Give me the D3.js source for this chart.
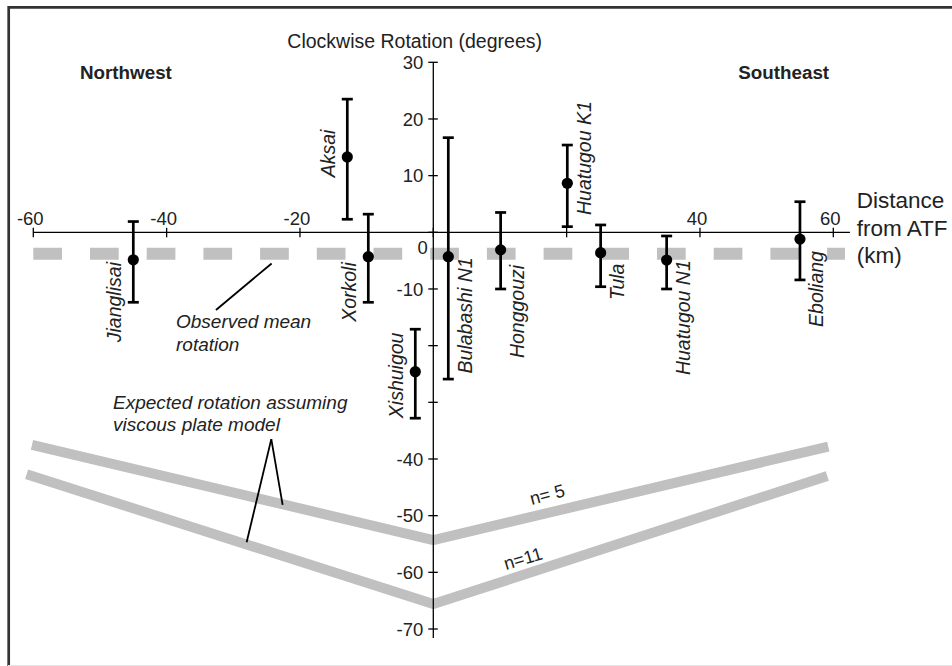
<!DOCTYPE html>
<html>
<head>
<meta charset="utf-8">
<script src="https://cdn.jsdelivr.net/npm/d3@7"></script>
<style>
  html, body { margin: 0; padding: 0; background: #fff; }
  svg { display: block; }
  text { font-family: "Liberation Sans", Arial, Helvetica, sans-serif; fill: #222; }
</style>
</head>
<body>
<svg id="chart" width="952" height="666"></svg>
<script>
// ---------- data ----------
const sites      = ["Jianglisai", "Aksai", "Xorkoli", "Xishuigou", "Bulabashi N1", "Honggouzi", "Huatugou K1", "Tula", "Huatugou N1", "Eboliang"];
const distanceKm = [-45, -12.9, -9.75, -2.7, 2.25, 10.1, 20.1, 25.1, 35.0, 55.0];
const rotation   = [-4.85, 13.3, -4.3, -24.6, -4.3, -3.1, 8.65, -3.6, -4.9, -1.2];
const errHigh    = [1.9, 23.5, 3.2, -17.1, 16.7, 3.5, 15.4, 1.3, -0.65, 5.4];
const errLow     = [-12.35, 2.3, -12.35, -32.8, -25.9, -10.0, 1.0, -9.6, -10.0, -8.4];
const labelSide  = ["left", "left", "left", "left", "right", "right", "right", "right", "right", "right"];
const labelStart = [-19.4, 9.7, -15.8, -32.8, -24.9, -22.2, 3.05, -11.95, -25.2, -16.7];

const meanRotation = -3.8;
const meanExtent   = [-60, 61.75];

const n5Dist  = [-60.2, 0, 59.25];
const n5Rot   = [-37.5, -54.3, -37.8];
const n11Dist = [-61, 0, 59.1];
const n11Rot  = [-42.7, -65.6, -43.0];

const xTicks = [-60, -40, -20, 0, 20, 40, 60];
const xTickLabels = [-60, -40, -20, 40, 60];
const yTicks = [30, 20, 10, 0, -10, -20, -30, -40, -50, -60, -70];
const yTickLabels = [30, 20, 10, 0, -10, -40, -50, -60, -70];

// ---------- scales ----------
const svg = d3.select("#chart");
const x = d3.scaleLinear().domain([-60, 60]).range([33.3, 833.3]);
const y = d3.scaleLinear().domain([30, -70]).range([62.3, 629]);

// frame
svg.append("path").attr("d", "M8.7,670 L8.7,7.3 L960,7.3")
  .attr("fill", "none").attr("stroke", "#333").attr("stroke-width", 2.7);
svg.append("line").attr("x1", 8).attr("x2", 952).attr("y1", 665.5).attr("y2", 665.5)
  .attr("stroke", "#e4e4e4").attr("stroke-width", 1);

// ---------- viscous model lines ----------
const line = d3.line().x(d => x(d[0])).y(d => y(d[1]));
[[n5Dist, n5Rot], [n11Dist, n11Rot]].forEach(([ds, rs]) => {
  svg.append("path")
    .attr("d", line(ds.map((d, i) => [d, rs[i]])))
    .attr("fill", "none").attr("stroke", "#c0c0c0").attr("stroke-width", 10)
    .attr("stroke-linejoin", "miter").attr("stroke-linecap", "butt");
});

// ---------- observed mean dashed line ----------
svg.append("line")
  .attr("x1", x(meanExtent[0])).attr("x2", x(meanExtent[1]))
  .attr("y1", y(meanRotation)).attr("y2", y(meanRotation))
  .attr("stroke", "#c0c0c0").attr("stroke-width", 12)
  .attr("stroke-dasharray", "28.7,28");

// ---------- axes ----------
const axisG = svg.append("g");
axisG.append("line").attr("x1", x(-60)).attr("x2", x(62.5)).attr("y1", y(0)).attr("y2", y(0))
  .attr("stroke", "#000").attr("stroke-width", 1.3);
axisG.append("line").attr("x1", x(0)).attr("x2", x(0)).attr("y1", y(30)).attr("y2", y(-71.6))
  .attr("stroke", "#000").attr("stroke-width", 1.3);

axisG.selectAll(".xt").data(xTicks).enter().append("line")
  .attr("x1", d => x(d)).attr("x2", d => x(d))
  .attr("y1", y(0) - 4.5).attr("y2", y(0) + 5)
  .attr("stroke", "#000").attr("stroke-width", 1.3);
axisG.selectAll(".xl").data(xTickLabels).enter().append("text")
  .attr("x", d => x(d) - 3).attr("y", y(0) - 7.5)
  .attr("text-anchor", "middle").attr("font-size", 18.5).attr("fill", "#333")
  .text(d => String(d));

axisG.selectAll(".yt").data(yTicks).enter().append("line")
  .attr("x1", x(0) - 5).attr("x2", x(0) + 4.5)
  .attr("y1", d => y(d)).attr("y2", d => y(d))
  .attr("stroke", "#000").attr("stroke-width", 1.3);
axisG.selectAll(".yl").data(yTickLabels).enter().append("text")
  .attr("x", d => d === 0 ? x(0) - 5.5 : x(0) - 10)
  .attr("y", d => d === 0 ? y(d) + 15 : y(d))
  .attr("dy", "0.36em")
  .attr("text-anchor", "end").attr("font-size", 18.5).attr("fill", "#333")
  .text(d => String(d));

// ---------- error bars and points ----------
const capW = 11;
const g = svg.append("g");
sites.forEach((s, i) => {
  const cx = x(distanceKm[i]);
  g.append("line").attr("x1", cx).attr("x2", cx)
    .attr("y1", y(errHigh[i])).attr("y2", y(errLow[i]))
    .attr("stroke", "#000").attr("stroke-width", 2.7);
  [errHigh[i], errLow[i]].forEach(v => {
    g.append("line").attr("x1", cx - capW / 2).attr("x2", cx + capW / 2)
      .attr("y1", y(v)).attr("y2", y(v))
      .attr("stroke", "#000").attr("stroke-width", 2.7);
  });
  g.append("circle").attr("cx", cx).attr("cy", y(rotation[i])).attr("r", 5.6).attr("fill", "#000");
  const lx = labelSide[i] === "left" ? cx - 12.5 : cx + 23.5;
  g.append("text")
    .attr("transform", `translate(${lx},${y(labelStart[i])}) rotate(-90)`)
    .attr("font-size", 19.5).attr("font-style", "italic")
    .attr("text-anchor", "start")
    .text(s);
});

// ---------- annotations ----------
svg.append("text").attr("x", 287.3).attr("y", 48.3).attr("font-size", 19.5).attr("fill", "#111")
  .text("Clockwise Rotation (degrees)");
svg.append("text").attr("x", 80).attr("y", 79).attr("font-size", 18.8).attr("font-weight", "bold")
  .text("Northwest");
svg.append("text").attr("x", 738.3).attr("y", 79).attr("font-size", 18.8).attr("font-weight", "bold")
  .text("Southeast");

const distLabel = ["Distance", "from ATF", "(km)"];
svg.append("text").attr("font-size", 22.5).attr("fill", "#222")
  .selectAll("tspan").data(distLabel).enter().append("tspan")
  .attr("x", 856.7).attr("y", (d, i) => 208 + i * 27.5).text(d => d);

const obsLabel = ["Observed mean", "rotation"];
svg.append("text").attr("font-size", 19).attr("font-style", "italic").attr("fill", "#333")
  .selectAll("tspan").data(obsLabel).enter().append("tspan")
  .attr("x", 176).attr("y", (d, i) => 328.3 + i * 22.4).text(d => d);

const expLabel = ["Expected rotation assuming", "viscous plate model"];
svg.append("text").attr("font-size", 19).attr("font-style", "italic").attr("fill", "#333")
  .selectAll("tspan").data(expLabel).enter().append("tspan")
  .attr("x", 113).attr("y", (d, i) => 409.3 + i * 21.8).text(d => d);

// leader lines (data units)
const leaders = [
  [[-24.25, -5.5], [-32.6, -13.7]],
  [[-24.3, -36.5], [-28.0, -54.7]],
  [[-24.3, -36.5], [-22.6, -48.1]]
];
leaders.forEach(l => {
  svg.append("path").attr("d", line(l)).attr("fill", "none")
    .attr("stroke", "#000").attr("stroke-width", 1.8);
});

svg.append("text").attr("transform", "translate(531.7,505) rotate(-15)")
  .attr("font-size", 18).attr("fill", "#222").text("n= 5");
svg.append("text").attr("transform", "translate(506,570) rotate(-16.5)")
  .attr("font-size", 18).attr("fill", "#222").text("n=11");
</script>
</body>
</html>
